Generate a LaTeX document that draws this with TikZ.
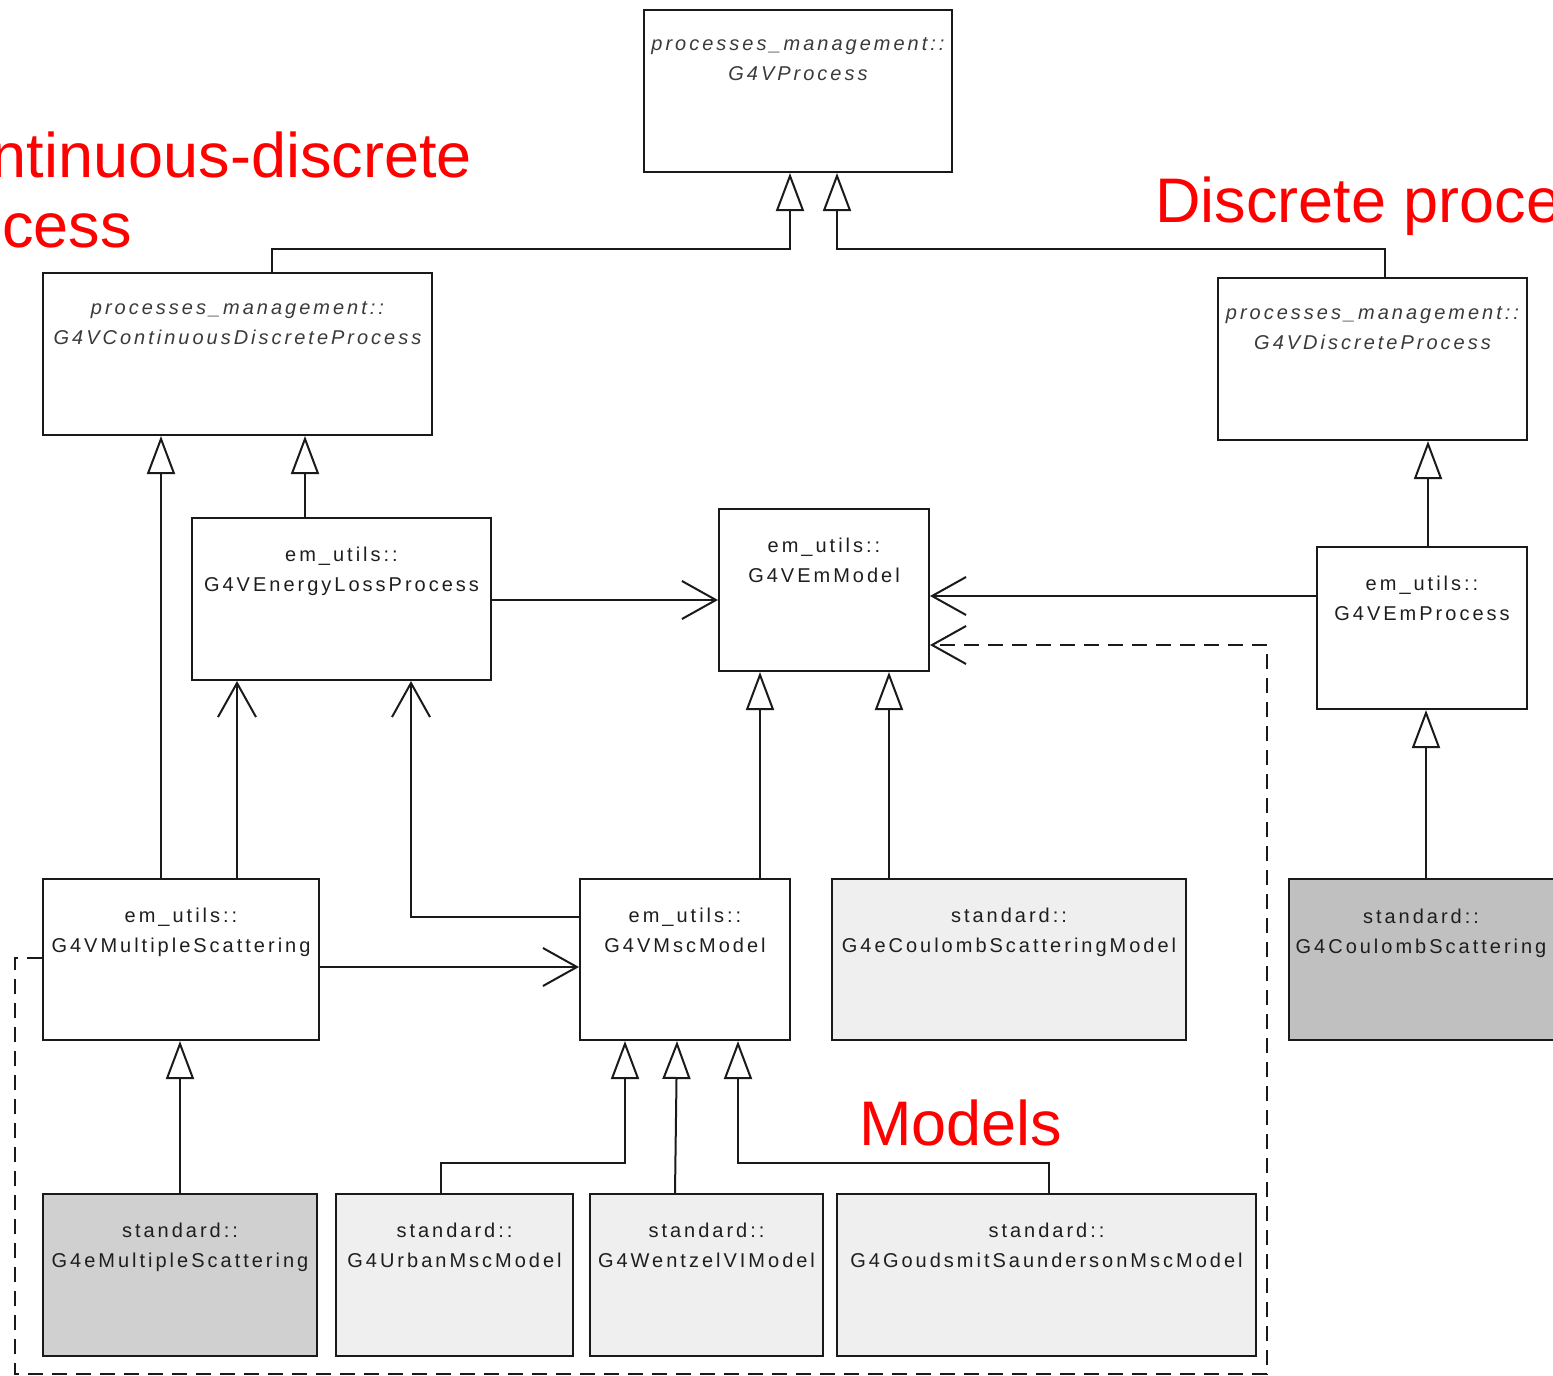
\documentclass[tikz,border=0pt]{standalone}
\usepackage{fontspec}
\setmainfont{Liberation Sans}
\newfontfamily\boxfont[LetterSpace=15]{Liberation Sans}
\newfontfamily\annotfont{Liberation Sans}
\usetikzlibrary{arrows.meta,fit}
\definecolor{txt}{HTML}{1E1E1E}
\definecolor{itxt}{HTML}{3A3A3A}
\definecolor{lightfill}{HTML}{EFEFEF}
\definecolor{midfill}{HTML}{D0D0D0}
\definecolor{darkfill}{HTML}{C0C0C0}
\definecolor{edge}{HTML}{1A1A1A}
\definecolor{annot}{HTML}{FF0000}
\newcommand\tstrut{\rule{0pt}{8pt}}
\begin{document}
\begin{tikzpicture}[x=0.5pt,y=-0.5pt,
  cls/.style={draw=edge, line width=1pt, rectangle, inner sep=0pt, fill=white},
  lbl/.style={font=\boxfont\fontsize{10pt}{15pt}\selectfont, text=txt, align=center, inner sep=0pt, anchor=north},
  lbli/.style={font=\boxfont\itshape\fontsize{10pt}{15pt}\selectfont, text=itxt, align=center, inner sep=0pt, anchor=north},
  gen/.style={draw=edge, line width=1pt, -{Triangle[open, length=19pt, width=14pt]}},
  assoc/.style={draw=edge, line width=1pt, -{Straight Barb[length=17pt, width=19pt]}},
  dep/.style={draw=edge, line width=1pt, dash pattern=on 7.5pt off 4.5pt, -{Straight Barb[length=17pt, width=19pt]}},
  annottext/.style={font=\annotfont\fontsize{31.5pt}{35pt}\selectfont, text=annot, inner sep=0pt, align=left}
]
\useasboundingbox (0,0) rectangle (1553,1376);
\clip (0,0) rectangle (1553,1376);

% boxes
\node[cls, fit={(644,10) (952,172)}] (proc) {};
\node[cls, fit={(43,273) (432,435)}] (cdp) {};
\node[cls, fit={(1218,278) (1527,440)}] (dp) {};
\node[cls, fit={(192,518) (491,680)}] (elp) {};
\node[cls, fit={(719,509) (929,671)}] (emm) {};
\node[cls, fit={(1317,547) (1527,709)}] (emp) {};
\node[cls, fit={(43,879) (319,1040)}] (vms) {};
\node[cls, fit={(580,879) (790,1040)}] (msc) {};
\node[cls, fill=lightfill, fit={(832,879) (1186,1040)}] (ecsm) {};
\node[cls, fill=darkfill, fit={(1289,879) (1556,1040)}] (cs) {};
\node[cls, fill=midfill, fit={(43,1194) (317,1356)}] (ems) {};
\node[cls, fill=lightfill, fit={(336,1194) (573,1356)}] (urb) {};
\node[cls, fill=lightfill, fit={(590,1194) (823,1356)}] (wvi) {};
\node[cls, fill=lightfill, fit={(837,1194) (1256,1356)}] (gs) {};

% labels
\path (proc.north) ++(0,25) node[lbli] (proc-t) {\tstrut processes\_management::\\G4VProcess};
\path (cdp.north) ++(0,26) node[lbli] (cdp-t) {\tstrut processes\_management::\\G4VContinuousDiscreteProcess};
\path (dp.north) ++(0,26) node[lbli] (dp-t) {\tstrut processes\_management::\\G4VDiscreteProcess};
\path (elp.north) ++(0,28) node[lbl] (elp-t) {\tstrut em\_utils::\\G4VEnergyLossProcess};
\path (emm.north) ++(0,28) node[lbl] (emm-t) {\tstrut em\_utils::\\G4VEmModel};
\path (emp.north) ++(0,28) node[lbl] (emp-t) {\tstrut em\_utils::\\G4VEmProcess};
\path (vms.north) ++(0,28) node[lbl] (vms-t) {\tstrut em\_utils::\\G4VMultipleScattering};
\path (msc.north) ++(0,28) node[lbl] (msc-t) {\tstrut em\_utils::\\G4VMscModel};
\path (ecsm.north) ++(0,28) node[lbl] (ecsm-t) {\tstrut standard::\\G4eCoulombScatteringModel};
\path (1421,879) ++(0,28) node[lbl] (cs-t) {\tstrut standard::\\G4CoulombScattering};
\path (ems.north) ++(0,28) node[lbl] (ems-t) {\tstrut standard::\\G4eMultipleScattering};
\path (urb.north) ++(0,28) node[lbl] (urb-t) {\tstrut standard::\\G4UrbanMscModel};
\path (wvi.north) ++(0,28) node[lbl] (wvi-t) {\tstrut standard::\\G4WentzelVIModel};
\path (gs.north) ++(0,28) node[lbl] (gs-t) {\tstrut standard::\\G4GoudsmitSaundersonMscModel};

% generalizations
\draw[gen] (cdp.north -| 272,0) |- (790,249) -- (proc.south -| 790,0);
\draw[gen] (dp.north -| 1385,0) |- (837,249) -- (proc.south -| 837,0);
\draw[gen] (vms.north -| 161,0) -- (cdp.south -| 161,0);
\draw[gen] (elp.north -| 305,0) -- (cdp.south -| 305,0);
\draw[gen] (emp.north -| 1428,0) -- (dp.south -| 1428,0);
\draw[gen] (cs.north -| 1426,0) -- (emp.south -| 1426,0);
\draw[gen] (msc.north -| 760,0) -- (emm.south -| 760,0);
\draw[gen] (ecsm.north -| 889,0) -- (emm.south -| 889,0);
\draw[gen] (ems.north -| 180,0) -- (vms.south -| 180,0);
\draw[gen] (urb.north -| 441,0) |- (625,1163) -- (msc.south -| 625,0);
\draw[gen] (wvi.north -| 675,0) -- (msc.south -| 677,0);
\draw[gen] (gs.north -| 1049,0) |- (738,1163) -- (msc.south -| 738,0);

% associations
\draw[assoc] (elp.east |- 0,600) -- (emm.west |- 0,600);
\draw[assoc] (emp.west |- 0,596) -- (emm.east |- 0,596);
\draw[assoc] (vms.east |- 0,967) -- (msc.west |- 0,967);
\draw[assoc] (vms.north -| 237,0) -- (elp.south -| 237,0);
\draw[assoc] (msc.west |- 0,917) -| (elp.south -| 411,0);

% dependency
\coordinate (dl) at (15,958);
\coordinate (dr) at (1267,1374);
\draw[dep] (vms.west |- 0,958) -- (dl) |- (dr) |- (emm.east |- 0,645);

% annotations
\node[annottext, anchor=base west] (ann-cd) at (-89,247) {Continuous-discrete\\process};
\node[annottext, anchor=base west] (ann-d) at (1155,222) {Discrete processes};
\node[annottext, anchor=base west] (ann-m) at (859,1145) {Models};
\end{tikzpicture}
\end{document}
